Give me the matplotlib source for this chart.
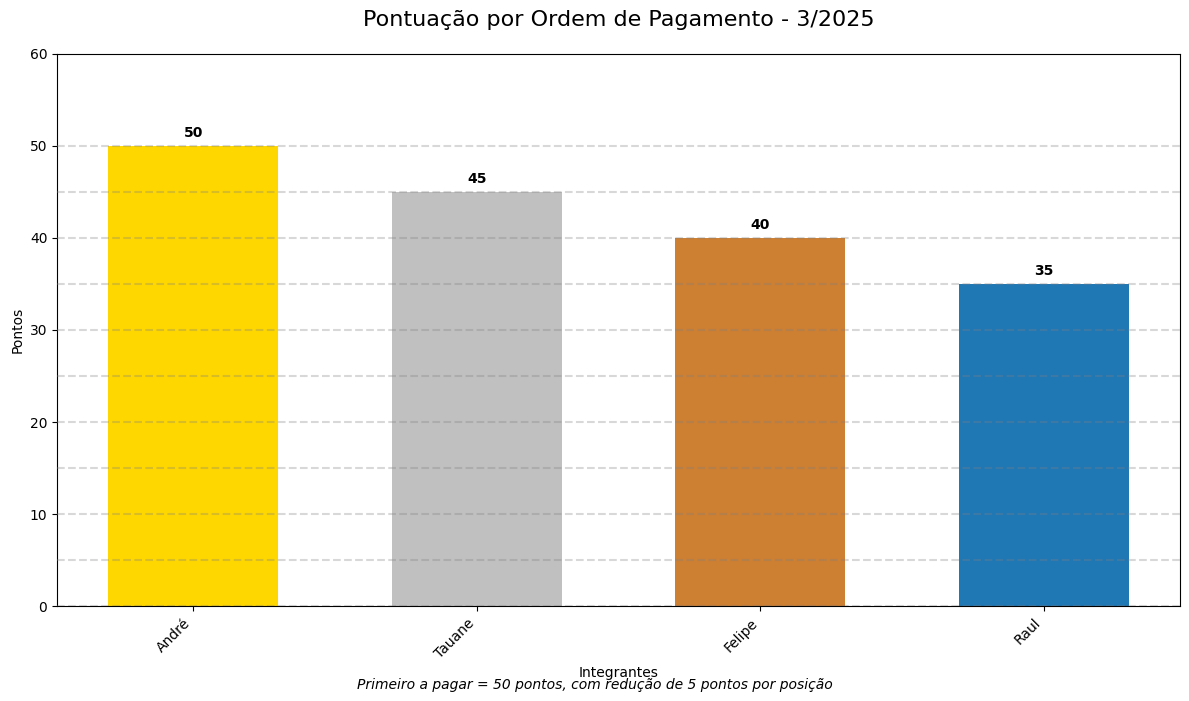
import matplotlib
matplotlib.use("Agg")
import matplotlib.pyplot as plt

# data
integrantes = ["André", "Tauane", "Felipe", "Raul"]
pontos = [50, 45, 40, 35]
cores = ["#FFD700", "#C0C0C0", "#CD7F32", "#1f77b4"]

fig, ax = plt.subplots(figsize=(11.89, 7.01), dpi=100)
fig.subplots_adjust(left=0.048, right=0.9924, top=0.923, bottom=0.1355)

bars = ax.bar(integrantes, pontos, color=cores, width=0.6, zorder=2)

# grid lines every 5 points up to the top score
for y in range(0, max(pontos) + 1, 5):
    ax.axhline(y, color="gray", linestyle="--", linewidth=1.5, alpha=0.3, zorder=3)

for b, v in zip(bars, pontos):
    ax.text(b.get_x() + b.get_width() / 2, v + 0.7, str(v),
            ha="center", va="bottom", fontsize=10, fontweight="bold")

ax.set_ylim(0, 60)
ax.set_title("Pontuação por Ordem de Pagamento - 3/2025", fontsize=16, pad=20)
ax.set_xlabel("Integrantes")
ax.set_ylabel("Pontos")
plt.setp(ax.get_xticklabels(), rotation=45, ha="right")

fig.text(0.5, 0.017, "Primeiro a pagar = 50 pontos, com redução de 5 pontos por posição",
         ha="center", fontsize=10, style="italic")

fig.savefig("out.png", dpi=100)
